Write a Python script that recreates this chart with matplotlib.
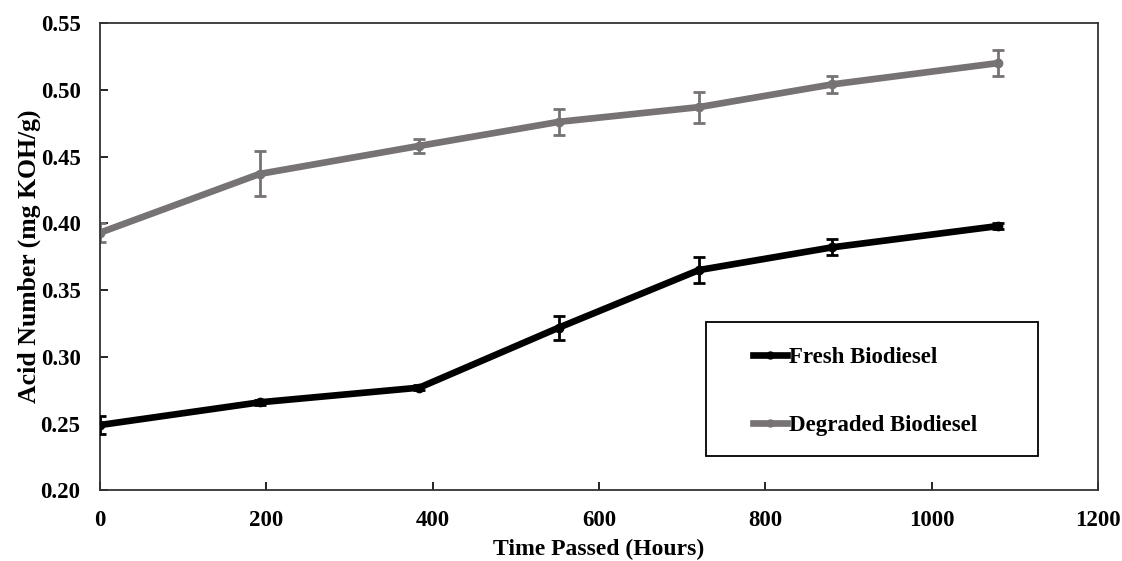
import matplotlib
matplotlib.use("Agg")
import matplotlib.pyplot as plt
from matplotlib.lines import Line2D
from matplotlib.patches import Rectangle

hours = [0, 192, 384, 552, 720, 880, 1080]
fresh = [0.249, 0.266, 0.277, 0.322, 0.365, 0.382, 0.398]
fresh_err = [0.007, 0.002, 0.002, 0.009, 0.0095, 0.006, 0.002]
degraded = [0.393, 0.437, 0.458, 0.476, 0.487, 0.504, 0.520]
degraded_err = [0.007, 0.0168, 0.005, 0.0097, 0.0115, 0.0062, 0.0096]

x_ticks = [0, 200, 400, 600, 800, 1000, 1200]
y_ticks = [0.20, 0.25, 0.30, 0.35, 0.40, 0.45, 0.50, 0.55]

plt.rcParams['font.family'] = ['Liberation Serif', 'DejaVu Serif']
plt.rcParams['font.weight'] = 'bold'

fig = plt.figure(figsize=(11.22, 5.61), dpi=100)
ax = fig.add_axes([0.0891, 0.1257, 0.8895, 0.8333])

GRAY = '#777273'
ax.errorbar(hours, degraded, yerr=degraded_err, color=GRAY, lw=4.8,
            marker='o', ms=6, elinewidth=2, capsize=4, capthick=2, zorder=2)
ax.errorbar(hours, fresh, yerr=fresh_err, color='black', lw=4.8,
            marker='o', ms=6, elinewidth=2, capsize=4, capthick=2, zorder=3)

ax.set_xlim(0, 1200)
ax.set_ylim(0.20, 0.55)
ax.set_xticks(x_ticks)
ax.set_yticks(y_ticks)
ax.set_yticklabels([f'{v:.2f}' for v in y_ticks])
ax.tick_params(direction='in', length=6, width=1.2, labelsize=16.5, pad=14,
               top=False, right=False)
for s in ax.spines.values():
    s.set_linewidth(1.3)
    s.set_color('#333333')

ax.set_xlabel('Time Passed (Hours)', fontsize=17, fontweight='bold', labelpad=6)
ax.set_ylabel('Acid Number (mg KOH/g)', fontsize=18.5, fontweight='bold', labelpad=0)

# legend: plain line+marker handles, box drawn separately
handles = [Line2D([], [], color='black', lw=4.8, marker='o', ms=5),
           Line2D([], [], color=GRAY, lw=4.8, marker='o', ms=5)]
ax.add_patch(Rectangle((0.607, 0.0748), 0.333, 0.286, transform=ax.transAxes,
                       fill=False, edgecolor='black', lw=1.3, zorder=4))
ax.legend(handles, ['Fresh Biodiesel', 'Degraded Biodiesel'], loc='upper left',
          bbox_to_anchor=(0.654, 0.307), fontsize=16.5, frameon=False,
          handlelength=1.5, handletextpad=0.1, labelspacing=2.03,
          borderpad=0, borderaxespad=0)

fig.savefig('out.png', dpi=100, facecolor='white')
